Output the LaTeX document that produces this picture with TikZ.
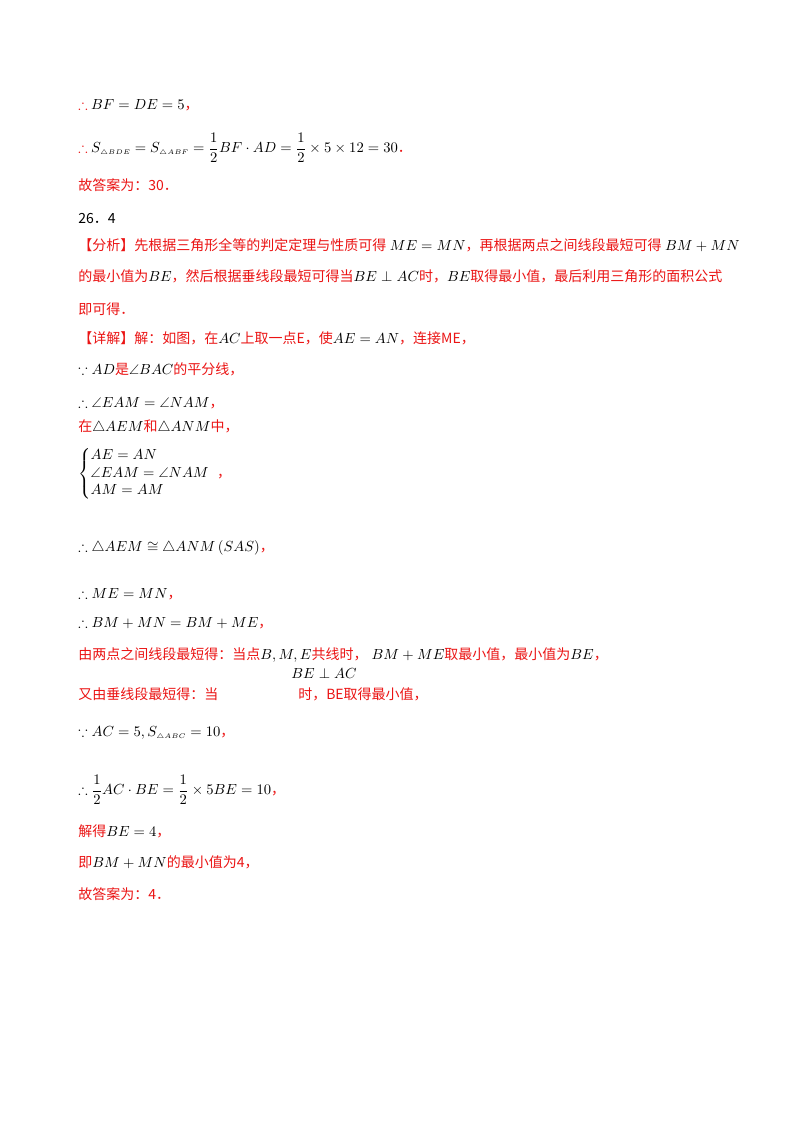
\documentclass[tikz,border=0pt]{standalone}
\usepackage{amsmath,amssymb}
\usepackage{fontspec}
\setmainfont{Liberation Serif}
\newfontfamily\cjk{Noto Sans CJK SC}
\definecolor{rd}{RGB}{235,20,20}
\newcommand{\R}[1]{{\color{rd}\cjk #1}}
\begin{document}
\begin{tikzpicture}[x=0.75pt,y=-0.75pt,
  ln/.style={anchor=west,inner sep=0pt,font=\fontsize{10.5pt}{12pt}\selectfont}]
\useasboundingbox[fill=white] (0,0) rectangle (800,1132);
\node[ln] (l1) at (78,105) {{\color{rd}$\therefore$} $BF=DE=5$\R{，}};
\node[ln] (l2) at (78,148) {{\color{rd}$\therefore$} $S_{\scriptscriptstyle\triangle BDE}=S_{\scriptscriptstyle\triangle ABF}=\dfrac12 BF\cdot AD=\dfrac12\times5\times12=30$\R{．}};
\node[ln] (l3) at (78,185) {\R{故答案为：30．}};
\node[ln] (l4) at (78,219) {{\cjk 26．4}};
\node[ln] (l5) at (78,245) {\R{【分析】先根据三角形全等的判定定理与性质可得} $ME=MN$\R{，再根据两点之间线段最短可得} $BM+MN$};
\node[ln] (l6) at (78,276) {\R{的最小值为}$BE$\R{，然后根据垂线段最短可得当}$BE\perp AC$\R{时，}$BE$\R{取得最小值，最后利用三角形的面积公式}};
\node[ln] (l7) at (78,309) {\R{即可得．}};
\node[ln] (l8) at (78,338) {\R{【详解】解：如图，在}$AC$\R{上取一点E，使}$AE=AN$\R{，连接ME，}};
\node[ln] (l9) at (78,369) {$\because AD$\R{是}$\angle BAC$\R{的平分线，}};
\node[ln] (l10) at (78,403) {$\therefore\angle EAM=\angle NAM$\R{，}};
\node[ln] (l11) at (78,427) {\R{在}$\triangle AEM$\R{和}$\triangle ANM$\R{中，}};
\node[ln] (l12) at (78,474) {$\left\{\begin{array}{@{}l}AE=AN\\[1pt] \angle EAM=\angle NAM\\[1pt] AM=AM\end{array}\right.$\R{，}};
\node[ln] (l13) at (78,548) {$\therefore\triangle AEM\cong\triangle ANM\left(SAS\right)$\R{，}};
\node[ln] (l14) at (78,594) {$\therefore ME=MN$\R{，}};
\node[ln] (l15) at (78,623) {$\therefore BM+MN=BM+ME$\R{，}};
\node[ln] (l16) at (78,655) {\R{由两点之间线段最短得：当点}$B,M,E$\R{共线时，}$\;BM+ME$\R{取最小值，最小值为}$BE$\R{，}};
\node[ln] (l17) at (78,694) {\R{又由垂线段最短得：当}\hspace{60pt}\R{时，BE取得最小值，}};
\node[ln] (l17m) at (291,673) {$BE\perp AC$};
\node[ln] (l18) at (78,733) {$\because AC=5,S_{\scriptscriptstyle\triangle ABC}=10$\R{，}};
\node[ln] (l19) at (78,790) {$\therefore\dfrac12 AC\cdot BE=\dfrac12\times5BE=10$\R{，}};
\node[ln] (l20) at (78,831) {\R{解得}$BE=4$\R{，}};
\node[ln] (l21) at (78,862) {\R{即}$BM+MN$\R{的最小值为4，}};
\node[ln] (l22) at (78,894) {\R{故答案为：4．}};
\end{tikzpicture}
\end{document}
